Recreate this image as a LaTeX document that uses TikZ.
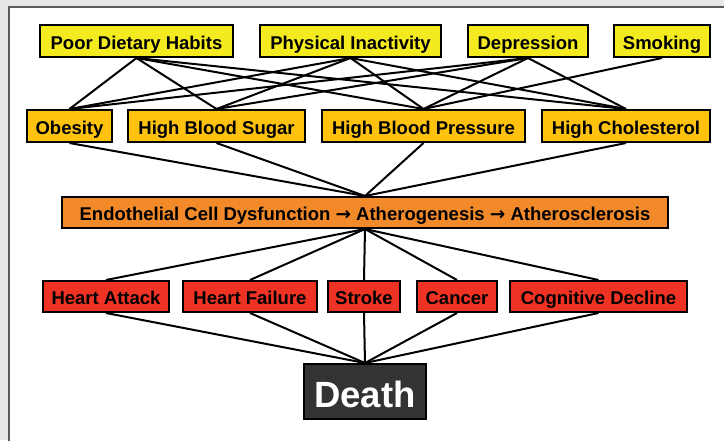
\documentclass[tikz,border=0pt]{standalone}
\usepackage{fontspec}
\setmainfont{Liberation Sans}
\newfontfamily\arrowfont{DejaVu Sans}
\pgfdeclarelayer{bg}
\pgfdeclarelayer{edges}
\pgfsetlayers{bg,edges,main}
\definecolor{pagegray}{HTML}{E6E6E6}
\definecolor{framegray}{HTML}{5A5A5A}
\definecolor{ylw}{HTML}{F3EB1F}
\definecolor{gold}{HTML}{FFC30F}
\definecolor{orng}{HTML}{F28A2A}
\definecolor{redbox}{HTML}{EE3325}
\definecolor{deathgray}{HTML}{333333}
\newcommand{\myarrow}{{\arrowfont\bfseries →}}
\tikzset{
  box/.style={draw=black, line width=2pt, inner sep=0pt, minimum height=32pt,
    text height=17.5pt, text depth=1pt,
    font=\fontsize{18.5}{20}\selectfont\bfseries, text=black},
  topbox/.style={box, fill=ylw},
  riskbox/.style={box, fill=gold},
  mechbox/.style={box, fill=orng, minimum height=31pt},
  outbox/.style={box, fill=redbox, minimum height=31pt},
  deathbox/.style={draw=black, line width=2pt, fill=deathgray, inner sep=0pt,
    minimum width=122pt, minimum height=55pt, text=white,
    text height=31pt, text depth=0pt,
    font=\fontsize{36.5}{40}\selectfont\bfseries},
  link/.style={line width=2pt, black}
}
\begin{document}
\begin{tikzpicture}[x=1pt,y=-1pt]
\useasboundingbox (0,0) rectangle (724,440);
\begin{pgfonlayer}{bg}
\fill[pagegray] (0,0) rectangle (724,440);
\fill[white] (9,7) rectangle (730,450);
\draw[framegray, line width=1.2pt] (9,450) -- (9,7) -- (730,7);
\end{pgfonlayer}
% top row
\node[topbox, minimum width=193pt] (pdh) at (136.5,41) {Poor Dietary Habits};
\node[topbox, minimum width=181pt] (pi) at (350.5,41) {Physical Inactivity};
\node[topbox, minimum width=120pt] (dep) at (528,41) {Depression};
\node[topbox, minimum width=96pt] (smk) at (662,41) {Smoking};
% second row
\node[riskbox, minimum width=85pt] (ob) at (69.5,126) {Obesity};
\node[riskbox, minimum width=177pt] (hbs) at (216.5,126) {High Blood Sugar};
\node[riskbox, minimum width=203pt] (hbp) at (423.5,126) {High Blood Pressure};
\node[riskbox, minimum width=168pt] (hc) at (626,126) {High Cholesterol};
% mechanism
\node[mechbox, minimum width=606pt] (mech) at (365,212.5) {Endothelial Cell Dysfunction \myarrow{} Atherogenesis \myarrow{} Atherosclerosis};
% outcomes
\node[outbox, minimum width=126pt] (ha) at (106,296.5) {Heart Attack};
\node[outbox, minimum width=134pt] (hf) at (250,296.5) {Heart Failure};
\node[outbox, minimum width=72pt] (stk) at (364,296.5) {Stroke};
\node[outbox, minimum width=80pt] (can) at (457,296.5) {Cancer};
\node[outbox, minimum width=177pt] (cd) at (598.5,296.5) {Cognitive Decline};
% death
\node[deathbox] (death) at (365,391.5) {Death};
\begin{pgfonlayer}{edges}
\foreach \s in {pdh,pi,dep} {
  \foreach \t in {ob,hbs,hbp,hc} {
    \draw[link] (\s.south) -- (\t.north);
  }
}
\draw[link] (smk.south) -- (hbp.north);
\foreach \t in {ob,hbs,hbp,hc} {
  \draw[link] (\t.south) -- (mech.north);
}
\foreach \t in {ha,hf,stk,can,cd} {
  \draw[link] (mech.south) -- (\t.north);
  \draw[link] (\t.south) -- (death.north);
}
\end{pgfonlayer}
\end{tikzpicture}
\end{document}
